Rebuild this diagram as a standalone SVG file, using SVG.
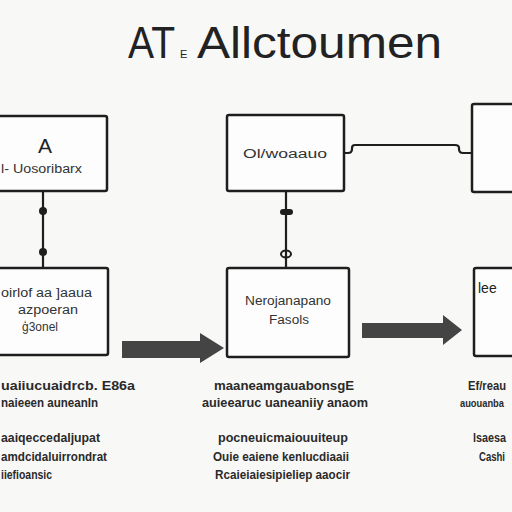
<svg xmlns="http://www.w3.org/2000/svg" width="512" height="512" viewBox="0 0 512 512">
<style>
.box{fill:#fdfdfd;stroke:#1e1e1e;stroke-width:2.5}
.ln{fill:none;stroke:#1e1e1e;stroke-width:2.2}
.arr{fill:#444}
.t{font-family:"Liberation Sans",Arial,sans-serif;fill:#222}
.bx{font-size:12px;fill:#333}
.bt{font-size:12.5px;font-weight:bold;fill:#2a2a2a}
</style>
<rect width="512" height="512" fill="#f8f8f7"/>
<g id="title">
<text class="t" x="128" y="58" font-size="44" textLength="47" lengthAdjust="spacingAndGlyphs" fill="#111">AT</text>
<text class="t" x="180" y="58" font-size="11" fill="#111">E</text>
<text class="t" x="197" y="58" font-size="44" textLength="245" lengthAdjust="spacingAndGlyphs" fill="#111">Allctoumen</text>
</g>
<g id="connectors">
<line class="ln" x1="43" y1="191" x2="43" y2="268"/>
<circle cx="43" cy="211" r="4" fill="#1e1e1e"/>
<circle cx="43" cy="252" r="4" fill="#1e1e1e"/>
<line class="ln" x1="286" y1="191" x2="286" y2="268"/>
<rect x="280" y="209" width="13" height="6" rx="3" fill="#1e1e1e"/>
<ellipse cx="286" cy="254" rx="5" ry="3.5" fill="none" stroke="#1e1e1e" stroke-width="2"/>
<path class="ln" d="M344 153 H348 Q352 153 352 149 V148 Q352 145 355 145 H455 Q459 145 459 148 V149 Q459 153 463 153 H472"/>
<path class="arr" d="M122 341 H200 V333 L224 348 L200 363 V358 H122 Z"/>
<path class="arr" d="M362 323 H443 V315 L462 330 L443 345 V338 H362 Z"/>
</g>
<g id="node-a">
<rect class="box" x="-3" y="116" width="110" height="75" rx="2"/>
<text class="t" x="45" y="153" font-size="21" text-anchor="middle">A</text>
<text class="t bx" x="1" y="173" textLength="81" lengthAdjust="spacingAndGlyphs">l- Uosoribarx</text>
</g>
<g id="node-b">
<rect class="box" x="-3" y="268" width="111" height="87" rx="2"/>
<text class="t bx" x="1" y="297" textLength="91" lengthAdjust="spacingAndGlyphs">oirlof aa ]aaua</text>
<text class="t bx" x="48" y="314" text-anchor="middle" textLength="60" lengthAdjust="spacingAndGlyphs">azpoeran</text>
<text class="t bx" x="40" y="331" text-anchor="middle" textLength="36" lengthAdjust="spacingAndGlyphs">ģ3onel</text>
</g>
<g id="node-c">
<rect class="box" x="227" y="115" width="117" height="76" rx="2"/>
<text class="t bx" x="285" y="158" text-anchor="middle" textLength="84" lengthAdjust="spacingAndGlyphs" fill="#444">Ol/woaauo</text>
</g>
<g id="node-d">
<rect class="box" x="472" y="104" width="48" height="88" rx="2"/>
</g>
<g id="node-e">
<rect class="box" x="227" y="268" width="122" height="89" rx="2"/>
<text class="t bx" x="288" y="305" text-anchor="middle" textLength="86" lengthAdjust="spacingAndGlyphs">Nerojanapano</text>
<text class="t bx" x="289" y="324" text-anchor="middle" textLength="40" lengthAdjust="spacingAndGlyphs">Fasols</text>
</g>
<g id="node-f">
<rect class="box" x="474" y="268" width="46" height="88" rx="2"/>
<text class="t" x="478" y="293" font-size="14">lee</text>
</g>
<g id="notes-left">
<text class="t bt" x="1" y="390" textLength="134" lengthAdjust="spacingAndGlyphs">uaiiucuaidrcb. E86a</text>
<text class="t bt" x="1" y="407" textLength="97" lengthAdjust="spacingAndGlyphs">naieeen auneanln</text>
<text class="t bt" x="1" y="442" textLength="99" lengthAdjust="spacingAndGlyphs">aaiqeccedaljupat</text>
<text class="t bt" x="1" y="461" textLength="106" lengthAdjust="spacingAndGlyphs">amdcidaluirrondrat</text>
<text class="t bt" x="1" y="479" textLength="51" lengthAdjust="spacingAndGlyphs">iiefioansic</text>
</g>
<g id="notes-mid">
<text class="t bt" x="214" y="390" textLength="140" lengthAdjust="spacingAndGlyphs">maaneamgauabonsgE</text>
<text class="t bt" x="202" y="407" textLength="166" lengthAdjust="spacingAndGlyphs">auieearuc uaneaniiy anaom</text>
<text class="t bt" x="218" y="442" textLength="130" lengthAdjust="spacingAndGlyphs">pocneuicmaiouuiteup</text>
<text class="t bt" x="213" y="461" textLength="136" lengthAdjust="spacingAndGlyphs">Ouie eaiene kenlucdiaaii</text>
<text class="t bt" x="215" y="479" textLength="135" lengthAdjust="spacingAndGlyphs">Rcaieiaiesipieliep aaocir</text>
</g>
<g id="notes-right">
<text class="t bt" x="468" y="390" textLength="38" lengthAdjust="spacingAndGlyphs">Ef/reau</text>
<text class="t bt" x="460" y="407" style="font-size:10.5px" textLength="44" lengthAdjust="spacingAndGlyphs">auouanba</text>
<text class="t bt" x="473" y="442" textLength="33" lengthAdjust="spacingAndGlyphs">lsaesa</text>
<text class="t bt" x="479" y="461" textLength="26" lengthAdjust="spacingAndGlyphs">Cashi</text>
</g>
</svg>
